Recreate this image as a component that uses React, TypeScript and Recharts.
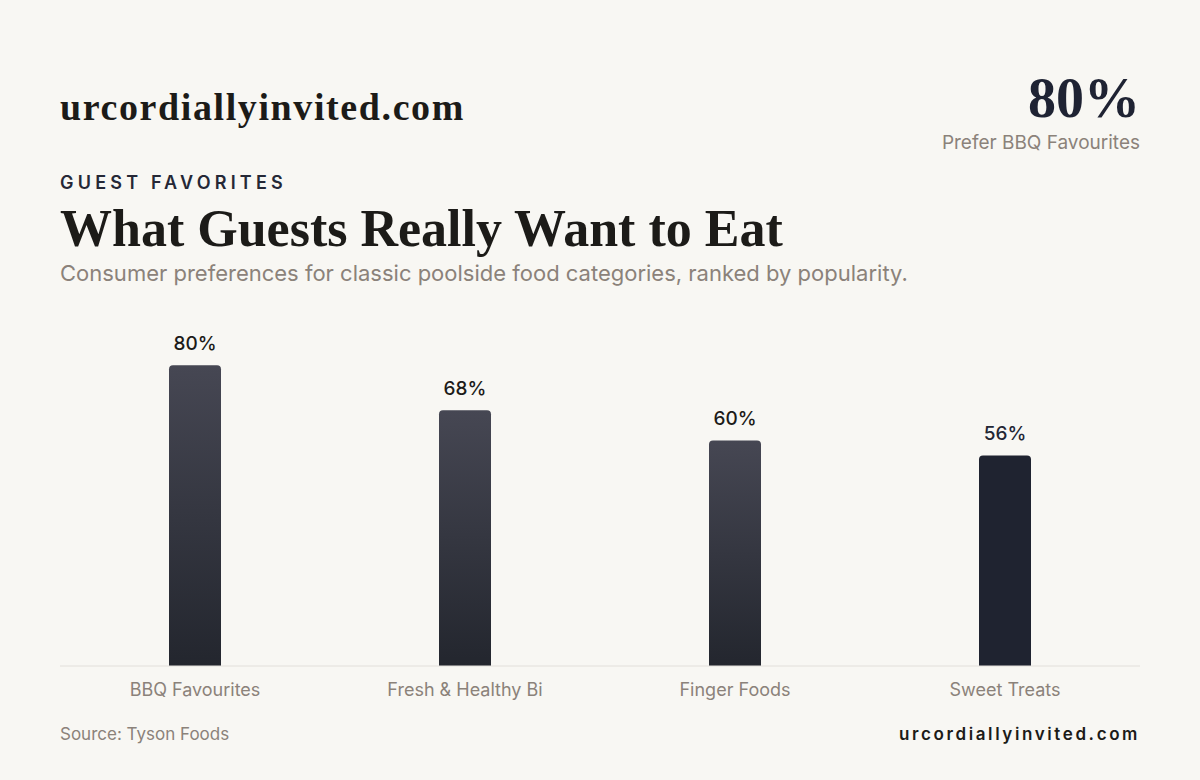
import { BarChart, Bar, XAxis, YAxis, Cell, LabelList } from "recharts";

const categories = ["BBQ Favourites", "Fresh & Healthy Bi", "Finger Foods", "Sweet Treats"];
const shares = [80, 68, 60, 56];

const data = categories.map((name, i) => ({ name, value: shares[i] }));

const BG = "#f8f7f3";
const INK = "#1c1b18";
const MUTED = "#8b827a";
const SERIF = "'Liberation Serif', 'DejaVu Serif', serif";
const SANS = "Inter, 'Noto Sans', sans-serif";

const renderLabel = (props: any) => {
  const { x, y, width, value, index } = props;
  const last = index === shares.length - 1;
  return (
    <text
      x={x + width / 2}
      y={y - 15}
      textAnchor="middle"
      fontFamily={SANS}
      fontSize={19}
      fontWeight={500}
      fill={last ? "#232634" : INK}
    >
      {value}%
    </text>
  );
};

const App = () => {
  return (
    <div
      style={{
        position: "fixed",
        left: 0,
        top: 0,
        width: 1200,
        height: 780,
        background: BG,
        overflow: "hidden",
      }}
    >
      <div
        style={{
          position: "absolute",
          left: 60,
          top: 83,
          fontFamily: SERIF,
          fontWeight: 700,
          fontSize: 38,
          letterSpacing: 1.6,
          color: INK,
          lineHeight: "48px",
          whiteSpace: "nowrap",
        }}
      >
        urcordiallyinvited.com
      </div>
      <div
        style={{
          position: "absolute",
          right: 60,
          top: 63,
          textAlign: "right",
          fontFamily: SERIF,
          fontWeight: 700,
          fontSize: 56,
          color: "#1f2333",
          lineHeight: "70px",
        }}
      >
        80%
      </div>
      <div
        style={{
          position: "absolute",
          right: 60,
          top: 131,
          textAlign: "right",
          fontFamily: SANS,
          fontSize: 19,
          color: MUTED,
          lineHeight: "24px",
        }}
      >
        Prefer BBQ Favourites
      </div>
      <div
        style={{
          position: "absolute",
          left: 60,
          top: 172,
          fontFamily: SANS,
          fontWeight: 600,
          fontSize: 18,
          letterSpacing: 4.2,
          color: "#252836",
          lineHeight: "22px",
        }}
      >
        GUEST FAVORITES
      </div>
      <div
        style={{
          position: "absolute",
          left: 60,
          top: 198,
          fontFamily: SERIF,
          fontWeight: 700,
          fontSize: 52,
          color: INK,
          lineHeight: "62px",
          whiteSpace: "nowrap",
        }}
      >
        What Guests Really Want to Eat
      </div>
      <div
        style={{
          position: "absolute",
          left: 60,
          top: 259,
          fontFamily: SANS,
          fontSize: 22,
          color: MUTED,
          lineHeight: "28px",
          whiteSpace: "nowrap",
        }}
      >
        Consumer preferences for classic poolside food categories, ranked by popularity.
      </div>

      <div style={{ position: "absolute", left: 0, top: 0 }}>
        <BarChart
          width={1200}
          height={780}
          data={data}
          margin={{ top: 290, right: 60, left: 60, bottom: 84 }}
          barCategoryGap={0}
        >
          <defs>
            <linearGradient id="barGrad" x1="0" y1="0" x2="0" y2="1">
              <stop offset="0%" stopColor="#464753" />
              <stop offset="100%" stopColor="#23262e" />
            </linearGradient>
          </defs>
          <YAxis hide domain={[0, 100]} />
          <XAxis
            dataKey="name"
            height={30}
            axisLine={{ stroke: "#e2dfda", strokeWidth: 1 }}
            tickLine={false}
            tickSize={0}
            tickMargin={17}
            interval={0}
            tick={{ fontFamily: SANS, fontSize: 18, fill: MUTED }}
          />
          <Bar dataKey="value" barSize={52} radius={[4, 4, 0, 0]} isAnimationActive={false}>
            {data.map((d, i) => (
              <Cell key={d.name} fill={i === data.length - 1 ? "#1f2330" : "url(#barGrad)"} />
            ))}
            <LabelList dataKey="value" content={renderLabel} />
          </Bar>
        </BarChart>
      </div>

      <div
        style={{
          position: "absolute",
          left: 60,
          top: 723,
          fontFamily: SANS,
          fontSize: 17,
          color: MUTED,
          lineHeight: "22px",
        }}
      >
        Source: Tyson Foods
      </div>
      <div
        style={{
          position: "absolute",
          right: 60,
          top: 723,
          textAlign: "right",
          fontFamily: SANS,
          fontWeight: 600,
          fontSize: 17,
          letterSpacing: 2.6,
          color: INK,
          lineHeight: "22px",
          whiteSpace: "nowrap",
        }}
      >
        urcordiallyinvited.com
      </div>
    </div>
  );
};

export default App;
